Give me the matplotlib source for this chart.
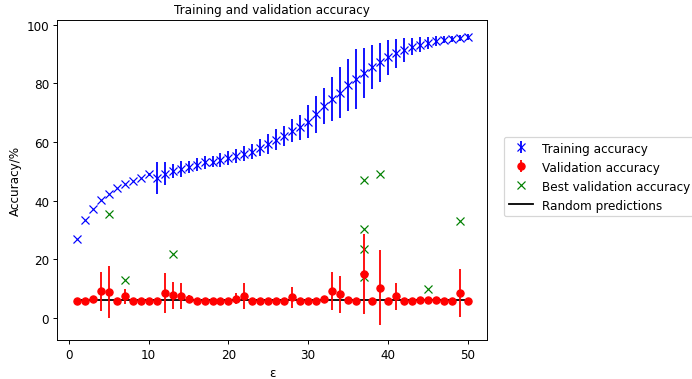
import numpy as np
import matplotlib
matplotlib.use("Agg")
import matplotlib.pyplot as plt

epochs = np.arange(1, 51)

train_acc = [26.8, 33.4, 37.0, 40.2, 42.2, 44.2, 45.7, 46.7, 47.8, 48.9,
             47.6, 49.2, 50.1, 50.9, 51.5, 52.3, 53.0, 53.3, 53.9, 54.6,
             55.3, 56.0, 56.7, 58.1, 59.2, 60.7, 61.9, 63.8, 65.0, 66.9,
             69.5, 72.2, 74.7, 76.9, 79.5, 81.5, 83.5, 85.5, 87.2, 88.9,
             90.3, 91.4, 92.6, 93.3, 93.8, 94.4, 95.0, 95.2, 95.5, 95.8]
train_err = [0, 0, 0, 0, 0, 0, 0, 0, 0, 0.5,
             5.4, 3.9, 2.5, 2.7, 2.1, 2.1, 2.3, 2.0, 2.3, 2.3,
             2.4, 2.6, 2.6, 2.9, 3.4, 3.6, 3.4, 3.9, 4.3, 5.7,
             6.3, 6.1, 7.6, 8.6, 9.0, 10.2, 8.6, 7.5, 6.7, 6.0,
             4.9, 4.0, 3.0, 2.6, 2.0, 1.7, 1.3, 1.0, 1.0, 1.0]

val_acc = [5.8, 5.8, 6.4, 9.0, 8.8, 5.8, 7.2, 5.8, 5.8, 5.8,
           5.8, 8.4, 7.6, 7.4, 6.5, 5.8, 5.8, 5.8, 5.8, 5.8,
           6.5, 7.3, 5.8, 5.8, 5.8, 5.8, 5.8, 7.0, 5.8, 5.8,
           5.8, 6.4, 9.0, 7.9, 6.0, 5.8, 15.0, 5.8, 10.2, 5.8,
           7.3, 5.8, 5.8, 6.0, 6.1, 6.0, 5.8, 5.8, 8.4, 5.8]
val_err = [0, 0, 0.5, 6.7, 8.8, 0, 2.6, 0, 0, 0,
           0, 6.9, 4.7, 4.5, 1.2, 0, 0, 0, 0, 0,
           2.0, 4.5, 0, 0, 0, 0, 0, 3.6, 0, 0,
           0, 0.5, 6.4, 6.2, 0, 0, 13.7, 0, 12.8, 0,
           4.6, 0, 0, 0, 0, 0, 0, 0, 8.2, 0]

best_epoch = [5, 7, 13, 37, 37, 37, 37, 39, 45, 49]
best_acc = [35.4, 12.8, 21.7, 47.0, 30.4, 23.5, 13.8, 49.1, 9.7, 33.1]

random_acc = 100 / 17

fig = plt.figure(figsize=(8.0, 4.393), dpi=86.5)
ax = fig.add_axes([0.083, 0.1034, 0.621, 0.842])

rnd, = ax.plot(epochs, [random_acc] * len(epochs), color='black', label='Random predictions')
best, = ax.plot(best_epoch, best_acc, 'x', color='green', label='Best validation accuracy')
tr = ax.errorbar(epochs, train_acc, yerr=train_err, fmt='x', color='blue',
                 label='Training accuracy')
va = ax.errorbar(epochs, val_acc, yerr=val_err, fmt='o', color='red',
                 label='Validation accuracy')

ax.set_title("Training and validation accuracy", fontsize=10)
ax.set_xlabel("ε")
ax.set_ylabel("Accuracy/%")
# legend sits outside the axes, to the right
ax.legend(handles=[tr, va, best, rnd], loc='center left', bbox_to_anchor=(1.025, 0.51))

fig.savefig("out.png", dpi=86.5)
